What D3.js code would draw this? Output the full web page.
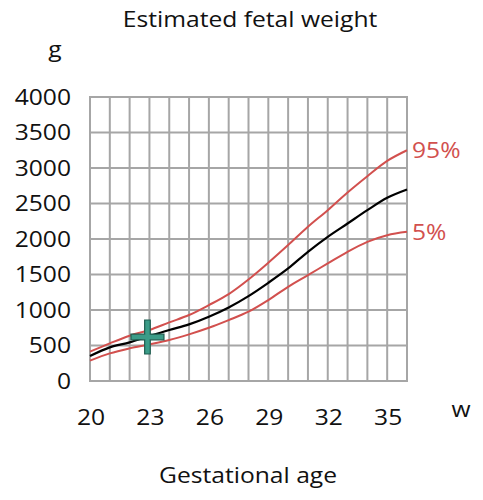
<!DOCTYPE html>
<html><head><meta charset="utf-8">
<script src="https://cdn.jsdelivr.net/npm/d3@7"></script>
<style>body{margin:0;background:#fff}text{font-family:"Open Sans",sans-serif}</style>
</head><body>
<svg id="c" width="483" height="500"></svg>
<script>
const weeks = [20,21,22,23,24,25,26,27,28,29,30,31,32,33,34,35,36];
const median = [352,474,544,633,718,797,905,1036,1196,1383,1585,1820,2031,2218,2406,2580,2697];
const p95 = [413,530,638,718,825,929,1069,1224,1430,1665,1914,2172,2406,2655,2884,3100,3250];
const p5 = [286,389,460,516,577,657,750,858,976,1140,1327,1491,1656,1820,1960,2054,2101];
const marker = [{w:22.9, v:620}];
const yTicks = [0,500,1000,1500,2000,2500,3000,3500,4000];
const xTickLabels = [20,23,26,29,32,35];
const xGrid = d3.range(20,37,1);

const svg = d3.select("#c");
const x = d3.scaleLinear().domain([20,36]).range([90,407]);
const y = d3.scaleLinear().domain([0,4000]).range([381,97]);
const red = "#d2504e", grid = "#a6a6a6";
const FS = 22, SX = 1.12;

function label(g, tx, ty, txt, anchor, color, dy) {
  return g.append("text")
    .attr("transform", `translate(${tx},${ty}) scale(${SX},1)`)
    .attr("text-anchor", anchor).attr("dy", dy || 0)
    .attr("font-size", FS).attr("fill", color || "#111").text(txt);
}

// grid
svg.append("g").selectAll("line").data(xGrid).join("line")
  .attr("x1",d=>x(d)).attr("x2",d=>x(d)).attr("y1",y(0)).attr("y2",y(4000))
  .attr("stroke",grid).attr("stroke-width",2);
svg.append("g").selectAll("line").data(yTicks).join("line")
  .attr("x1",x(20)-1).attr("x2",x(36)+1).attr("y1",d=>y(d)).attr("y2",d=>y(d))
  .attr("stroke",grid).attr("stroke-width",2);

// y labels
const gy = svg.append("g");
yTicks.forEach(d => label(gy, 71, y(d), d, "end", "#111", "0.36em"));
// x labels
const gx = svg.append("g");
xTickLabels.forEach(d => label(gx, x(d)+1, 425, d, "middle"));

const line = d3.line().x((d,i)=>x(weeks[i])).y(d=>y(d)).curve(d3.curveCatmullRom);
svg.append("path").attr("d",line(p5)).attr("fill","none").attr("stroke",red).attr("stroke-width",2);
svg.append("path").attr("d",line(p95)).attr("fill","none").attr("stroke",red).attr("stroke-width",2);
svg.append("path").attr("d",line(median)).attr("fill","none").attr("stroke","#000").attr("stroke-width",2.2);

// cross marker
const cross = svg.append("g").selectAll("g").data(marker).join("g")
  .attr("transform",d=>`translate(${x(d.w)},${y(d.v)})`);
cross.append("path")
  .attr("d","M-2.8,-17 H2.8 V-2.8 H16.5 V2.8 H2.8 V17 H-2.8 V2.8 H-16.5 V-2.8 H-2.8 Z")
  .attr("fill","#3b9c88").attr("stroke","#1f5d50").attr("stroke-width",1.2);

// labels
label(svg, 250, 27, "Estimated fetal weight", "middle");
label(svg, 55, 57, "g", "middle");
label(svg, 461, 417, "w", "middle");
label(svg, 248, 483, "Gestational age", "middle");
label(svg, 412, y(p95[p95.length-1]), "95%", "start", red, "0.36em");
label(svg, 412, y(p5[p5.length-1]), "5%", "start", red, "0.36em");
</script>
</body></html>
